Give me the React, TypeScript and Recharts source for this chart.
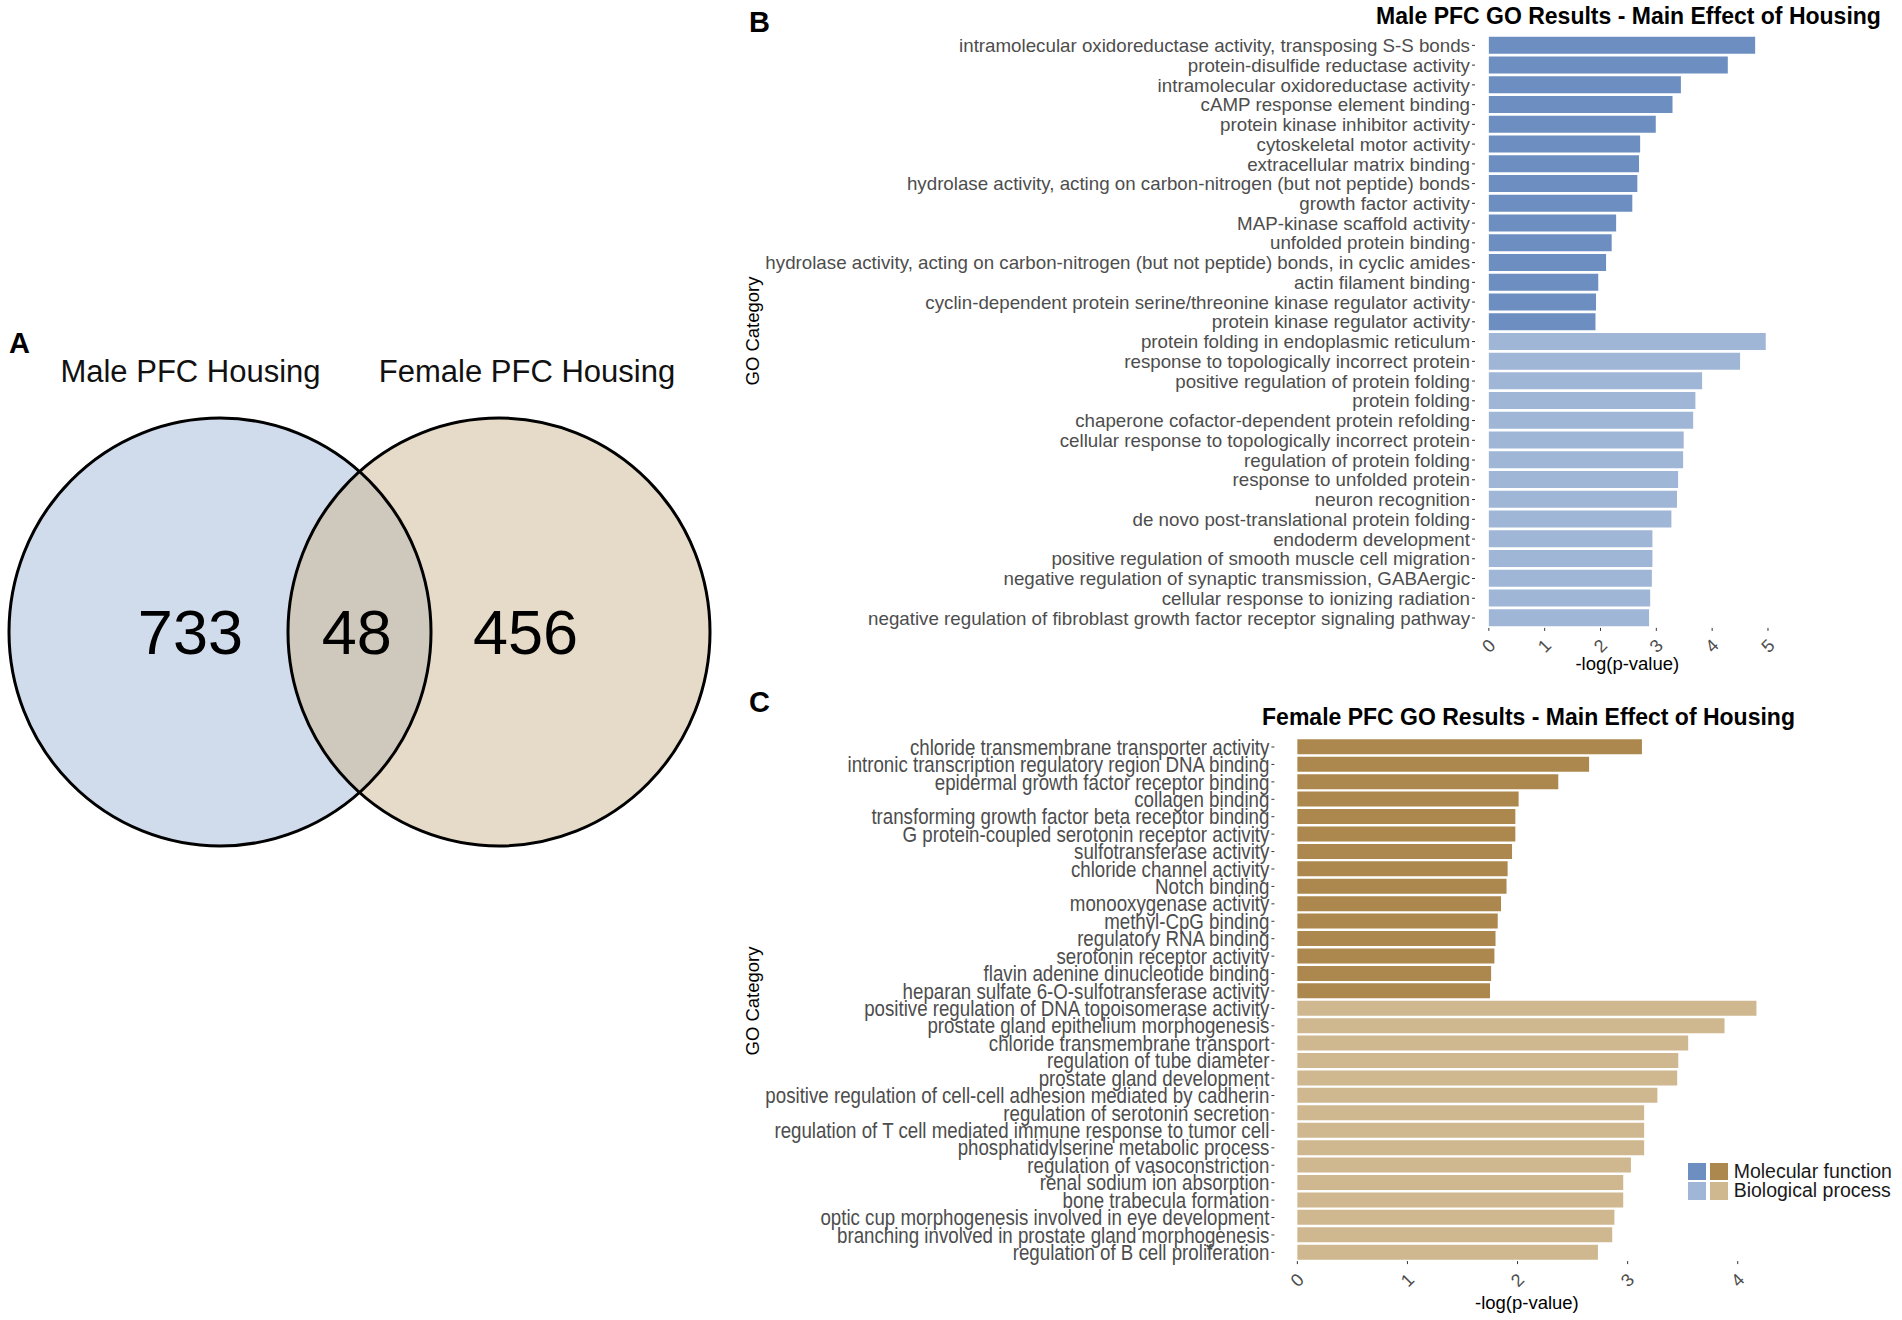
import React from 'react';
import { BarChart, Bar, XAxis, YAxis, Cell, ScatterChart, Scatter, Label } from 'recharts';

// ---- Venn (panel A) ----
const vennSetNames = ['Male PFC Housing', 'Female PFC Housing'];
const vennCounts = [733, 48, 456]; // male only, shared, female only

// ---- Male PFC GO results (panel B) ----
const maleMfTerms = [
  'intramolecular oxidoreductase activity, transposing S-S bonds',
  'protein-disulfide reductase activity',
  'intramolecular oxidoreductase activity',
  'cAMP response element binding',
  'protein kinase inhibitor activity',
  'cytoskeletal motor activity',
  'extracellular matrix binding',
  'hydrolase activity, acting on carbon-nitrogen (but not peptide) bonds',
  'growth factor activity',
  'MAP-kinase scaffold activity',
  'unfolded protein binding',
  'hydrolase activity, acting on carbon-nitrogen (but not peptide) bonds, in cyclic amides',
  'actin filament binding',
  'cyclin-dependent protein serine/threonine kinase regulator activity',
  'protein kinase regulator activity',
];
const maleMfValues = [4.77, 4.28, 3.44, 3.29, 2.99, 2.71, 2.69, 2.66, 2.57, 2.28, 2.2, 2.1, 1.96, 1.92, 1.91];

const maleBpTerms = [
  'protein folding in endoplasmic reticulum',
  'response to topologically incorrect protein',
  'positive regulation of protein folding',
  'protein folding',
  'chaperone cofactor-dependent protein refolding',
  'cellular response to topologically incorrect protein',
  'regulation of protein folding',
  'response to unfolded protein',
  'neuron recognition',
  'de novo post-translational protein folding',
  'endoderm development',
  'positive regulation of smooth muscle cell migration',
  'negative regulation of synaptic transmission, GABAergic',
  'cellular response to ionizing radiation',
  'negative regulation of fibroblast growth factor receptor signaling pathway',
];
const maleBpValues = [4.96, 4.5, 3.82, 3.7, 3.66, 3.49, 3.48, 3.39, 3.37, 3.27, 2.93, 2.93, 2.92, 2.89, 2.87];

// ---- Female PFC GO results (panel C) ----
const femaleMfTerms = [
  'chloride transmembrane transporter activity',
  'intronic transcription regulatory region DNA binding',
  'epidermal growth factor receptor binding',
  'collagen binding',
  'transforming growth factor beta receptor binding',
  'G protein-coupled serotonin receptor activity',
  'sulfotransferase activity',
  'chloride channel activity',
  'Notch binding',
  'monooxygenase activity',
  'methyl-CpG binding',
  'regulatory RNA binding',
  'serotonin receptor activity',
  'flavin adenine dinucleotide binding',
  'heparan sulfate 6-O-sulfotransferase activity',
];
const femaleMfValues = [3.13, 2.65, 2.37, 2.01, 1.98, 1.98, 1.95, 1.91, 1.9, 1.85, 1.82, 1.8, 1.79, 1.76, 1.75];

const femaleBpTerms = [
  'positive regulation of DNA topoisomerase activity',
  'prostate gland epithelium morphogenesis',
  'chloride transmembrane transport',
  'regulation of tube diameter',
  'prostate gland development',
  'positive regulation of cell-cell adhesion mediated by cadherin',
  'regulation of serotonin secretion',
  'regulation of T cell mediated immune response to tumor cell',
  'phosphatidylserine metabolic process',
  'regulation of vasoconstriction',
  'renal sodium ion absorption',
  'bone trabecula formation',
  'optic cup morphogenesis involved in eye development',
  'branching involved in prostate gland morphogenesis',
  'regulation of B cell proliferation',
];
const femaleBpValues = [4.17, 3.88, 3.55, 3.46, 3.45, 3.27, 3.15, 3.15, 3.15, 3.03, 2.96, 2.96, 2.88, 2.86, 2.73];

const maleTicks = [0, 1, 2, 3, 4, 5];
const femaleTicks = [0, 1, 2, 3, 4];
const legendLabels = ['Molecular function', 'Biological process'];

const COLORS = {
  maleMf: '#6c8ec0',
  maleBp: '#a0b6d6',
  femaleMf: '#ac884e',
  femaleBp: '#cfb78f',
  vennMale: '#d0dbeb',
  vennFemale: '#e6dbc8',
  vennShared: '#cfc8bc',
};

const FONT = "'Liberation Sans', Arial, Helvetica, sans-serif";

type Row = { term: string; value: number; type: 'mf' | 'bp' };

function buildRows(mfTerms: string[], mfValues: number[], bpTerms: string[], bpValues: number[]): Row[] {
  return [
    ...mfTerms.map((term, i) => ({ term, value: mfValues[i], type: 'mf' as const })),
    ...bpTerms.map((term, i) => ({ term, value: bpValues[i], type: 'bp' as const })),
  ];
}

// ggplot-style 5% expansion of the continuous axis
function expandDomain(values: number[]): [number, number] {
  const max = Math.max(...values);
  return [-max * 0.05, max * 1.05];
}

const RotatedTick = (props: any) => {
  const { x, y, payload, offset } = props;
  const ty = y + offset;
  return (
    <text
      x={x}
      y={ty}
      transform={`rotate(-45 ${x} ${ty})`}
      textAnchor="middle"
      dominantBaseline="central"
      fontSize={18}
      fontFamily={FONT}
      fill="#4d4d4d"
    >
      {payload.value}
    </text>
  );
};

// category label, optionally squeezed horizontally (panel C uses a condensed face)
const TermTick = (props: any) => {
  const { x, y, payload, size, squeeze } = props;
  return (
    <text
      transform={`translate(${x} ${y}) scale(${squeeze} 1)`}
      x={0}
      y={0}
      dy="0.355em"
      textAnchor="end"
      fontSize={size}
      fontFamily={FONT}
      fill="#4d4d4d"
    >
      {payload.value}
    </text>
  );
};

interface GoPanelProps {
  rows: Row[];
  mfColor: string;
  bpColor: string;
  ticks: number[];
  left: number;
  top: number;
  plotLeft: number;
  plotRight: number;
  plotTop: number;
  plotHeight: number;
  xAxisHeight: number;
  yAxisWidth: number;
  labelSize: number;
  labelSqueeze: number;
  tickOffset: number;
}

function GoPanel(p: GoPanelProps) {
  const width = 1902 - p.left;
  const margin = {
    top: p.plotTop - p.top,
    right: 1902 - p.plotRight,
    left: p.plotLeft - p.left - p.yAxisWidth,
    bottom: 4,
  };
  const height = margin.top + p.plotHeight + p.xAxisHeight + margin.bottom;
  const domain = expandDomain(p.rows.map((r) => r.value));
  return (
    <div style={{ position: 'absolute', left: p.left, top: p.top }}>
      <BarChart width={width} height={height} data={p.rows} layout="vertical" margin={margin} barCategoryGap="6%">
        <XAxis
          type="number"
          domain={domain}
          ticks={p.ticks}
          allowDataOverflow
          axisLine={false}
          tickSize={3}
          tickMargin={0}
          tickLine={{ stroke: '#333333' }}
          height={p.xAxisHeight}
          tick={(tp: any) => <RotatedTick {...tp} offset={p.tickOffset} />}
        >
          <Label
            value="-log(p-value)"
            position="insideBottom"
            offset={0}
            style={{ fontSize: 18.5, fill: '#000', fontFamily: FONT }}
          />
        </XAxis>
        <YAxis
          type="category"
          dataKey="term"
          width={p.yAxisWidth}
          interval={0}
          axisLine={false}
          tickSize={3}
          tickMargin={2}
          tickLine={{ stroke: '#333333' }}
          tick={(tp: any) => <TermTick {...tp} size={p.labelSize} squeeze={p.labelSqueeze} />}
        />
        <Bar dataKey="value" isAnimationActive={false}>
          {p.rows.map((r, i) => (
            <Cell key={i} fill={r.type === 'mf' ? p.mfColor : p.bpColor} />
          ))}
        </Bar>
      </BarChart>
    </div>
  );
}

// ---- Venn diagram drawn through a hidden-axis scatter chart ----
const vennLayout = { width: 720, height: 604, top: 330, cx0: 220, unit: 279, rx: 211, ry: 214 };
const vennRegionX = [-0.106, 0.49, 1.095]; // label anchors in set-index units
const vennLabelDx = [-29.5, 28];
const vennLabelDy = -261;
const vennFills = [COLORS.vennMale, COLORS.vennFemale];

function Venn() {
  const setData = vennSetNames.map((name, i) => ({ x: i, y: 0, name, idx: i }));
  const regionData = vennCounts.map((count, i) => ({ x: vennRegionX[i], y: 0, count }));
  const { rx, ry } = vennLayout;
  const xDomain: [number, number] = [
    -vennLayout.cx0 / vennLayout.unit,
    (vennLayout.width - vennLayout.cx0) / vennLayout.unit,
  ];
  return (
    <div style={{ position: 'absolute', left: 0, top: vennLayout.top }}>
      <ScatterChart width={vennLayout.width} height={vennLayout.height} margin={{ top: 0, right: 0, bottom: 0, left: 0 }}>
        <XAxis type="number" dataKey="x" domain={xDomain} hide allowDataOverflow />
        <YAxis type="number" dataKey="y" domain={[-1, 1]} hide allowDataOverflow />
        <Scatter
          data={setData}
          isAnimationActive={false}
          shape={(sp: any) => (
            <ellipse cx={sp.cx} cy={sp.cy} rx={rx} ry={ry} fill={vennFills[sp.payload.idx]} />
          )}
        />
        <Scatter
          data={setData}
          isAnimationActive={false}
          shape={(sp: any) =>
            sp.payload.idx === 0 ? (
              <g>
                <ellipse
                  cx={sp.cx}
                  cy={sp.cy}
                  rx={rx}
                  ry={ry}
                  fill={COLORS.vennShared}
                  clipPath="url(#vennFemaleClip)"
                />
                <ellipse cx={sp.cx} cy={sp.cy} rx={rx} ry={ry} fill="none" stroke="#000" strokeWidth={3} />
              </g>
            ) : (
              <g>
                <defs>
                  <clipPath id="vennFemaleClip">
                    <ellipse cx={sp.cx} cy={sp.cy} rx={rx} ry={ry} />
                  </clipPath>
                </defs>
                <ellipse cx={sp.cx} cy={sp.cy} rx={rx} ry={ry} fill="none" stroke="#000" strokeWidth={3} />
              </g>
            )
          }
        />
        <Scatter
          data={setData}
          isAnimationActive={false}
          shape={(sp: any) => (
            <text
              x={sp.cx + vennLabelDx[sp.payload.idx]}
              y={sp.cy + vennLabelDy}
              textAnchor="middle"
              dominantBaseline="central"
              fontSize={31}
              fontFamily={FONT}
              fill="#111"
            >
              {sp.payload.name}
            </text>
          )}
        />
        <Scatter
          data={regionData}
          isAnimationActive={false}
          shape={(sp: any) => (
            <text
              x={sp.cx}
              y={sp.cy}
              textAnchor="middle"
              dominantBaseline="central"
              fontSize={63}
              fontFamily={FONT}
              fill="#000"
            >
              {sp.payload.count}
            </text>
          )}
        />
      </ScatterChart>
    </div>
  );
}

const abs = (x: number, y: number, extra: React.CSSProperties = {}): React.CSSProperties => ({
  position: 'absolute',
  left: x,
  top: y,
  transform: 'translate(-50%, -50%)',
  whiteSpace: 'nowrap',
  lineHeight: 1,
  ...extra,
});

export default function App() {
  const maleRows = buildRows(maleMfTerms, maleMfValues, maleBpTerms, maleBpValues);
  const femaleRows = buildRows(femaleMfTerms, femaleMfValues, femaleBpTerms, femaleBpValues);
  const letter = { fontWeight: 700, fontSize: 29 };
  const title = { fontWeight: 700, fontSize: 23 };
  return (
    <div
      style={{
        position: 'relative',
        width: 1902,
        height: 1320,
        background: '#fff',
        overflow: 'hidden',
        fontFamily: FONT,
        color: '#000',
      }}
    >
      <style>{'body{margin:0}'}</style>

      <div style={abs(19.5, 343, letter)}>A</div>
      <div style={abs(759.5, 22, letter)}>B</div>
      <div style={abs(759.5, 702, letter)}>C</div>

      <Venn />

      <div style={abs(1628.5, 16, title)}>Male PFC GO Results - Main Effect of Housing</div>
      <div style={abs(1528.5, 717, title)}>Female PFC GO Results - Main Effect of Housing</div>

      <div style={abs(753, 331, { fontSize: 18.5, transform: 'translate(-50%, -50%) rotate(-90deg)' })}>GO Category</div>
      <div style={abs(753, 1001, { fontSize: 18.5, transform: 'translate(-50%, -50%) rotate(-90deg)' })}>GO Category</div>

      <GoPanel
        rows={maleRows}
        mfColor={COLORS.maleMf}
        bpColor={COLORS.maleBp}
        ticks={maleTicks}
        left={740}
        top={0}
        plotLeft={1475}
        plotRight={1779.6}
        plotTop={35.5}
        plotHeight={592.4}
        xAxisHeight={42}
        yAxisWidth={715}
        labelSize={18.75}
        labelSqueeze={1}
        tickOffset={15}
      />

      <GoPanel
        rows={femaleRows}
        mfColor={COLORS.femaleMf}
        bpColor={COLORS.femaleBp}
        ticks={femaleTicks}
        left={700}
        top={700}
        plotLeft={1274.4}
        plotRight={1779.4}
        plotTop={738.3}
        plotHeight={522.8}
        xAxisHeight={48}
        yAxisWidth={560}
        labelSize={21.5}
        labelSqueeze={0.87}
        tickOffset={16}
      />

      {/* legend */}
      <div style={{ position: 'absolute', left: 1688, top: 1163, display: 'flex', alignItems: 'flex-start' }}>
        <div style={{ display: 'grid', gridTemplateColumns: '17.7px 17.7px', columnGap: 4.7, rowGap: 2 }}>
          <div style={{ width: 17.7, height: 17.4, background: COLORS.maleMf }} />
          <div style={{ width: 17.7, height: 17.4, background: COLORS.femaleMf }} />
          <div style={{ width: 17.7, height: 17.4, background: COLORS.maleBp }} />
          <div style={{ width: 17.7, height: 17.4, background: COLORS.femaleBp }} />
        </div>
        <div style={{ marginLeft: 5.6, fontSize: 19.5, color: '#1a1a1a', lineHeight: '19.4px', marginTop: -1 }}>
          {legendLabels.map((l) => (
            <div key={l}>{l}</div>
          ))}
        </div>
      </div>
    </div>
  );
}
